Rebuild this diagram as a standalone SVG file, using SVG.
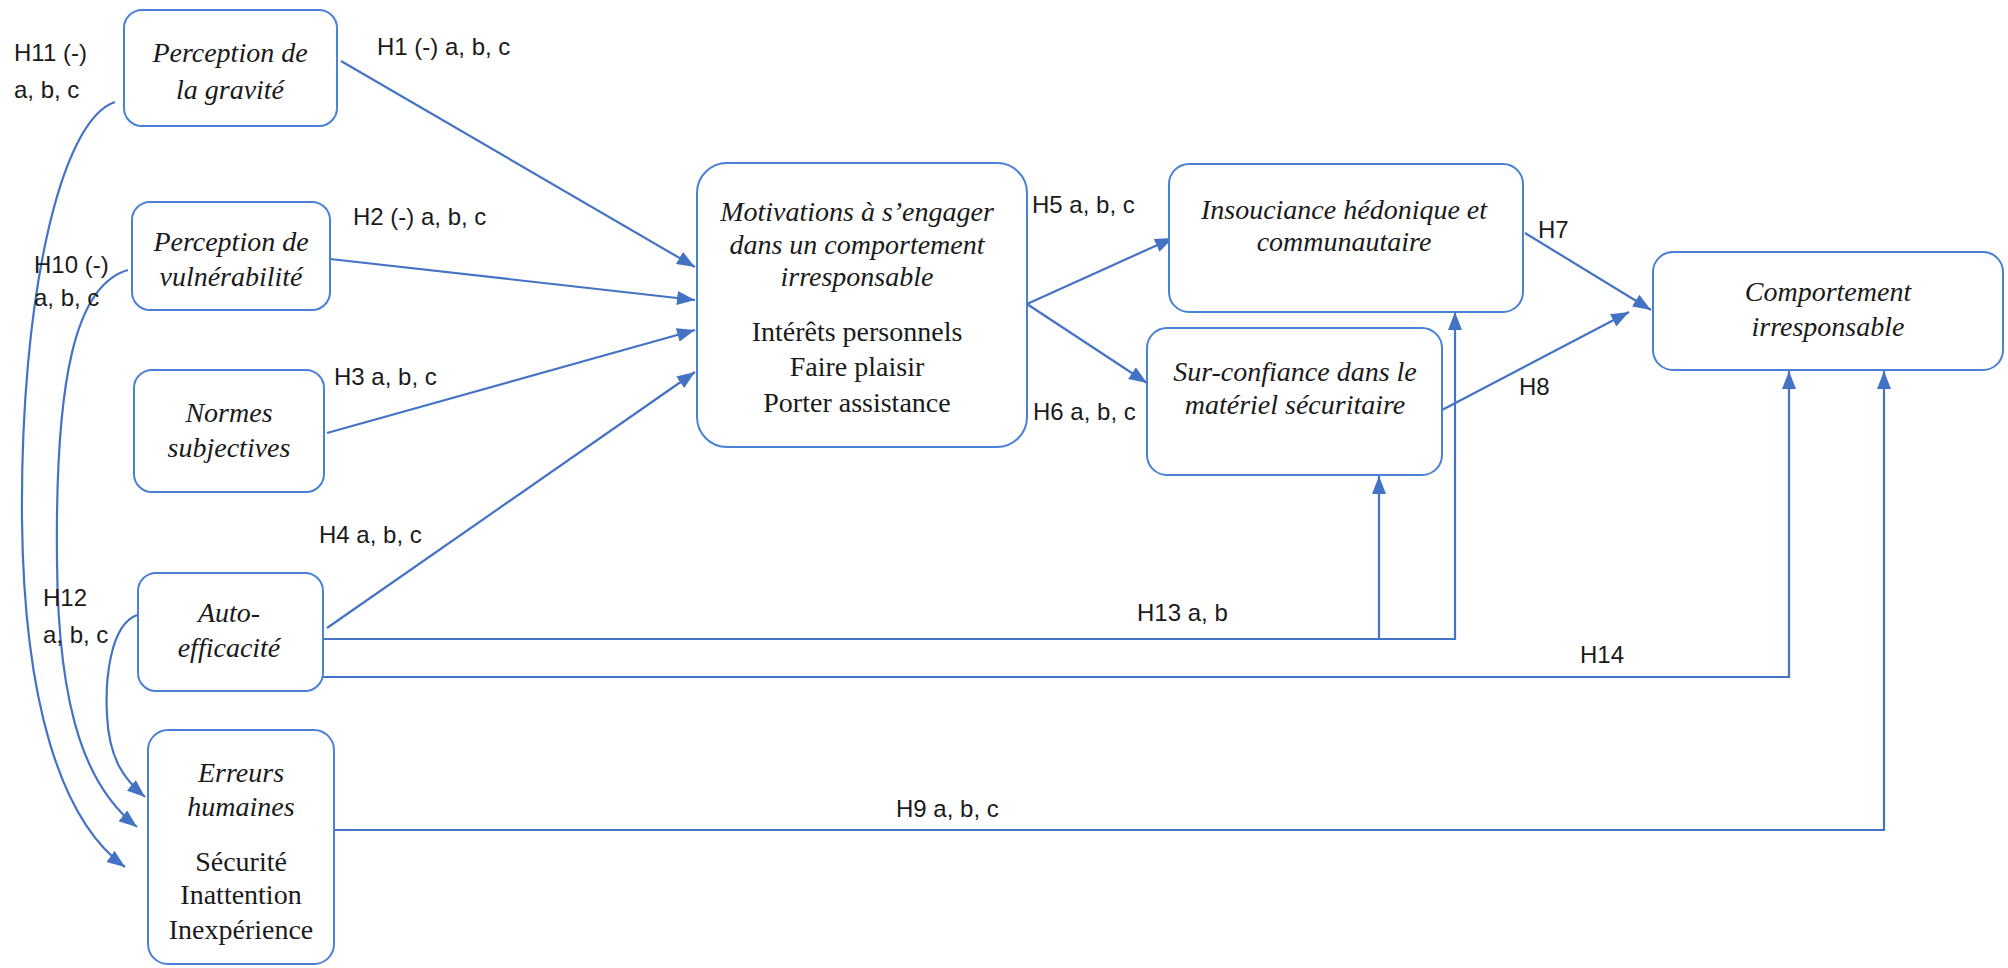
<svg xmlns="http://www.w3.org/2000/svg" width="2008" height="968" viewBox="0 0 2008 968">
<style>
.box{fill:#fff;stroke:#4a80d6;stroke-width:2}
.ln{fill:none;stroke:#4472C4;stroke-width:2.2}
.it{font-family:"Liberation Serif",serif;font-style:italic;font-size:28px;fill:#1a1a1a;text-anchor:middle}
.rg{font-family:"Liberation Serif",serif;font-size:28px;fill:#1a1a1a;text-anchor:middle}
.lb{font-family:"Liberation Sans",Arial,sans-serif;font-size:24px;fill:#1a1a1a}
</style>
<defs>
<marker id="ah" viewBox="0 0 10 10" refX="10" refY="5" markerUnits="userSpaceOnUse" markerWidth="18" markerHeight="14" preserveAspectRatio="none" orient="auto">
<path d="M0,0 L10,5 L0,10 z" fill="#4472C4"/>
</marker>
</defs>
<rect width="2008" height="968" fill="#fff"/>
<g id="connectors">
<path class="ln" d="M341,61 L695,267" marker-end="url(#ah)"/>
<path class="ln" d="M330,259 L695,300" marker-end="url(#ah)"/>
<path class="ln" d="M327,433 L695,330" marker-end="url(#ah)"/>
<path class="ln" d="M327,628 L695,372" marker-end="url(#ah)"/>
<path class="ln" d="M1027,304 L1173,238" marker-end="url(#ah)"/>
<path class="ln" d="M1027,304 L1147,383" marker-end="url(#ah)"/>
<path class="ln" d="M1525,233 L1651,310" marker-end="url(#ah)"/>
<path class="ln" d="M1442,410 L1629,312" marker-end="url(#ah)"/>
<path class="ln" d="M323,639 L1455,639 L1455,312" marker-end="url(#ah)"/>
<path class="ln" d="M1379,639 L1379,476" marker-end="url(#ah)"/>
<path class="ln" d="M323,677 L1789,677 L1789,371" marker-end="url(#ah)"/>
<path class="ln" d="M334,830 L1884,830 L1884,371" marker-end="url(#ah)"/>
<path class="ln" d="M115,102 C60,120 20,300 22,520 C24,700 60,820 125,867" marker-end="url(#ah)"/>
<path class="ln" d="M128,270 C75,285 55,380 57,560 C58,720 90,790 137,827" marker-end="url(#ah)"/>
<path class="ln" d="M137,615 C110,625 105,680 107,715 C109,760 125,780 145,797" marker-end="url(#ah)"/>
</g>
<g id="labels">
<text class="lb" x="14" y="61">H11 (-)</text>
<text class="lb" x="14" y="98">a, b, c</text>
<text class="lb" x="34" y="273">H10 (-)</text>
<text class="lb" x="34" y="306">a, b, c</text>
<text class="lb" x="43" y="606">H12</text>
<text class="lb" x="43" y="643">a, b, c</text>
<text class="lb" x="377" y="55">H1 (-) a, b, c</text>
<text class="lb" x="353" y="225">H2 (-) a, b, c</text>
<text class="lb" x="334" y="385">H3 a, b, c</text>
<text class="lb" x="319" y="543">H4 a, b, c</text>
<text class="lb" x="1032" y="213">H5 a, b, c</text>
<text class="lb" x="1033" y="420">H6 a, b, c</text>
<text class="lb" x="1538" y="238">H7</text>
<text class="lb" x="1519" y="395">H8</text>
<text class="lb" x="1137" y="621">H13 a, b</text>
<text class="lb" x="1580" y="663">H14</text>
<text class="lb" x="896" y="817">H9 a, b, c</text>
</g>
<g id="gravite">
<rect class="box" x="124" y="10" width="213" height="116" rx="18"/>
<text class="it" x="230" y="62">Perception de</text>
<text class="it" x="230" y="99">la gravité</text>
</g>
<g id="vulnerabilite">
<rect class="box" x="132" y="202" width="198" height="108" rx="18"/>
<text class="it" x="231" y="251">Perception de</text>
<text class="it" x="231" y="286">vulnérabilité</text>
</g>
<g id="normes">
<rect class="box" x="134" y="370" width="190" height="122" rx="18"/>
<text class="it" x="229" y="422">Normes</text>
<text class="it" x="229" y="457">subjectives</text>
</g>
<g id="auto">
<rect class="box" x="138" y="573" width="185" height="118" rx="18"/>
<text class="it" x="229" y="622">Auto-</text>
<text class="it" x="229" y="657">efficacité</text>
</g>
<g id="erreurs">
<rect class="box" x="148" y="730" width="186" height="234" rx="20"/>
<text class="it" x="241" y="782">Erreurs</text>
<text class="it" x="241" y="816">humaines</text>
<text class="rg" x="241" y="871">Sécurité</text>
<text class="rg" x="241" y="904">Inattention</text>
<text class="rg" x="241" y="939">Inexpérience</text>
</g>
<g id="motivations">
<rect class="box" x="697" y="163" width="330" height="284" rx="30"/>
<text class="it" x="857" y="221">Motivations à s’engager</text>
<text class="it" x="857" y="254">dans un comportement</text>
<text class="it" x="857" y="286">irresponsable</text>
<text class="rg" x="857" y="341">Intérêts personnels</text>
<text class="rg" x="857" y="376">Faire plaisir</text>
<text class="rg" x="857" y="412">Porter assistance</text>
</g>
<g id="insouciance">
<rect class="box" x="1169" y="164" width="354" height="148" rx="20"/>
<text class="it" x="1344" y="219">Insouciance hédonique et</text>
<text class="it" x="1344" y="251">communautaire</text>
</g>
<g id="surconfiance">
<rect class="box" x="1147" y="328" width="295" height="147" rx="20"/>
<text class="it" x="1295" y="381">Sur-confiance dans le</text>
<text class="it" x="1295" y="414">matériel sécuritaire</text>
</g>
<g id="comportement">
<rect class="box" x="1653" y="252" width="350" height="118" rx="20"/>
<text class="it" x="1828" y="301">Comportement</text>
<text class="it" x="1828" y="336">irresponsable</text>
</g>
</svg>
